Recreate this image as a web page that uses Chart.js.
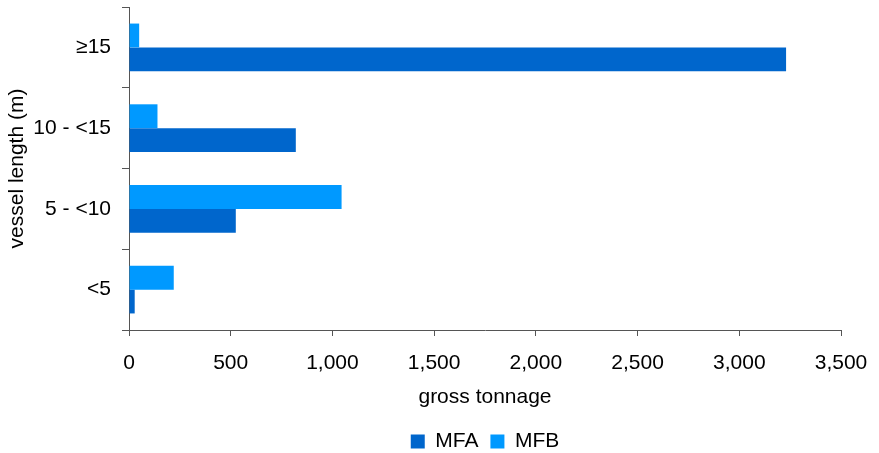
<!DOCTYPE html>
<html>
<head>
<meta charset="utf-8">
<script src="https://cdn.jsdelivr.net/npm/chart.js@4/dist/chart.umd.min.js"></script>
<style>
  html, body { margin: 0; padding: 0; background: #fff; }
  #wrap { width: 879px; height: 453px; }
</style>
</head>
<body>
<div id="wrap"><canvas id="chart"></canvas></div>
<script>
// vessel length classes, top to bottom
const categories = ["\u226515", "10 - <15", "5 - <10", "<5"];
const mfa = [3230, 820, 525, 28];
const mfb = [50, 140, 1045, 220];
const xTicks = [0, 500, 1000, 1500, 2000, 2500, 3000, 3500];

Chart.defaults.font.family = "'Liberation Sans', Arial, Helvetica, sans-serif";
Chart.defaults.font.size = 21;
Chart.defaults.color = "#000";

const ctx = document.getElementById("chart").getContext("2d");
new Chart(ctx, {
  type: "bar",
  data: {
    labels: categories,
    datasets: [
      // MFB first so it sits above MFA in each group; legend is reversed
      { label: "MFB", data: mfb, backgroundColor: "#0099ff", categoryPercentage: 0.59, barPercentage: 1.0 },
      { label: "MFA", data: mfa, backgroundColor: "#0066cc", categoryPercentage: 0.59, barPercentage: 1.0 }
    ]
  },
  options: {
    indexAxis: "y",
    responsive: true,
    maintainAspectRatio: false,
    animation: false,
    layout: { padding: { top: 7, right: 38, left: 5, bottom: -9 } },
    plugins: {
      legend: {
        position: "bottom",
        reverse: true,
        fullSize: false,
        labels: { boxWidth: 14, boxHeight: 14, padding: 12 }
      },
      tooltip: { enabled: false }
    },
    scales: {
      x: {
        min: 0, max: 3500,
        afterBuildTicks: axis => { axis.ticks = xTicks.map(v => ({ value: v })); },
        afterFit: s => { s.height = 89; s.paddingRight = 0; },
        ticks: {
          padding: 15,
          callback: v => v.toLocaleString("en-US")
        },
        grid: { drawOnChartArea: false, drawTicks: true, tickLength: 6, color: "#555" },
        border: { color: "#555", width: 1 },
        title: { display: true, text: "gross tonnage", padding: { top: 0, bottom: 9 } }
      },
      y: {
        afterFit: s => { s.width = 124; s.paddingTop = 0; s.paddingBottom = 0; },
        ticks: { padding: 11 },
        grid: { drawOnChartArea: false, drawTicks: true, tickLength: 7, color: "#555", offset: true },
        border: { color: "#555", width: 1 },
        title: { display: true, text: "vessel length (m)", padding: { top: 0, bottom: 3 } }
      }
    }
  }
});
</script>
</body>
</html>
